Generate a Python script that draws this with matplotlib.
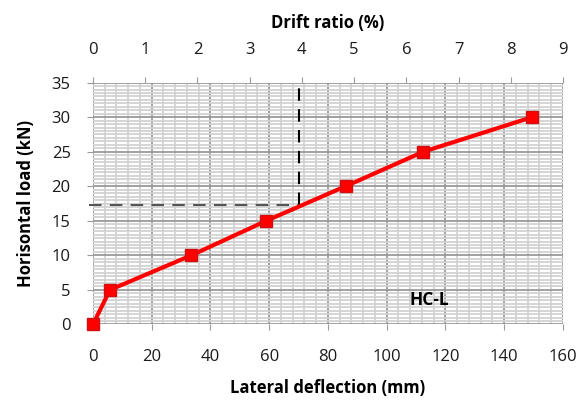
import matplotlib

matplotlib.use("Agg")
import matplotlib.pyplot as plt
from matplotlib.ticker import MultipleLocator

plt.rcParams["font.family"] = ["Open Sans", "DejaVu Sans"]

# lateral deflection (mm) vs horizontal load (kN)
deflection = [0, 5.8, 33.5, 59, 86, 112.5, 149.5]
load = [0, 5, 10, 15, 20, 25, 30]

# dashed guide at the reference point
ref_deflection = 70
ref_load = 17.3

label = "HC-L"

fig = plt.figure(figsize=(5.81, 4.01), dpi=100)
ax = fig.add_axes([0.160, 0.191, 0.809, 0.603])

ax.set_xlim(0, 160)
ax.set_ylim(0, 35)
ax.xaxis.set_major_locator(MultipleLocator(20))
ax.xaxis.set_minor_locator(MultipleLocator(4))
ax.yaxis.set_major_locator(MultipleLocator(5))
ax.yaxis.set_minor_locator(MultipleLocator(0.5))

ax.grid(True, which="minor", color="#d2d2d2", linewidth=1.3)
ax.grid(True, which="major", color="#9a9a9a", linewidth=1.3)
ax.set_axisbelow(True)
for side in ax.spines.values():
    side.set_visible(False)

ax.tick_params(which="minor", length=0)
ax.tick_params(which="major", length=4, color="#9a9a9a", labelsize=12,
               labelcolor="#1a1a1a")
ax.tick_params(axis="x", pad=14)
ax.tick_params(axis="y", pad=12)

ax.plot([-1.5, ref_deflection], [ref_load, ref_load], ls=(0, (6, 4)),
        color="#555555", lw=1.5, clip_on=False)
ax.plot([ref_deflection, ref_deflection], [ref_load, 35], ls=(0, (6, 4)),
        color="black", lw=1.5)

ax.plot(deflection, load, color="#ff0000", lw=3, marker="s", markersize=8,
        markerfacecolor="#ff0000", markeredgecolor="#d01010", clip_on=False, zorder=5)

ax.text(114.5, 3.5, label, fontsize=12.5, fontweight="bold", ha="center", va="center")

ax.set_xlabel("Lateral deflection (mm)", fontsize=12, fontweight="bold", labelpad=10)
ax.set_ylabel("Horisontal load (kN)", fontsize=12, fontweight="bold", labelpad=12)

top = ax.twiny()
top.set_xlim(0, 9)
top.xaxis.set_major_locator(MultipleLocator(1))
top.tick_params(length=4, color="#9a9a9a", labelsize=12, labelcolor="#1a1a1a", pad=14)
for side in top.spines.values():
    side.set_visible(False)
top.set_xlabel("Drift ratio (%)", fontsize=12, fontweight="bold", labelpad=10)

fig.savefig("out.png", dpi=100)
